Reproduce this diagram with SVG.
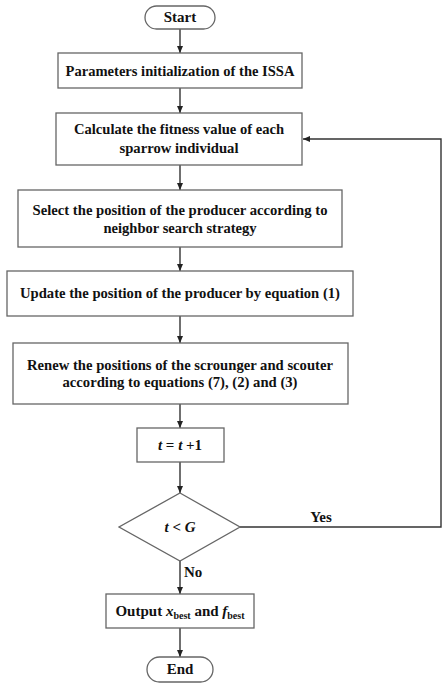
<svg xmlns="http://www.w3.org/2000/svg" width="448" height="687" viewBox="0 0 448 687">
<defs>
<marker id="ah" markerWidth="8" markerHeight="8" refX="7" refY="4" orient="auto" markerUnits="userSpaceOnUse">
<path d="M0,1 L7,4 L0,7 Z" fill="#222"/>
</marker>
<style>
.box{fill:#fff;stroke:#666;stroke-width:1.3}
.t{font-family:"Liberation Serif","Times New Roman",serif;font-weight:bold;font-size:15px;fill:#111;text-anchor:middle}
.c{fill:none;stroke:#333;stroke-width:1.4}
.i{font-style:italic}
</style>
</defs>
<rect width="448" height="687" fill="#fff"/>
<g id="connectors">
<line class="c" x1="180" y1="29" x2="180" y2="53" marker-end="url(#ah)"/>
<line class="c" x1="180" y1="88" x2="180" y2="113" marker-end="url(#ah)"/>
<line class="c" x1="180" y1="165" x2="180" y2="190" marker-end="url(#ah)"/>
<line class="c" x1="180" y1="247" x2="180" y2="271" marker-end="url(#ah)"/>
<line class="c" x1="180" y1="316" x2="180" y2="343" marker-end="url(#ah)"/>
<line class="c" x1="180" y1="404" x2="180" y2="428" marker-end="url(#ah)"/>
<line class="c" x1="180" y1="462" x2="180" y2="493" marker-end="url(#ah)"/>
<line class="c" x1="180" y1="561" x2="180" y2="594" marker-end="url(#ah)"/>
<line class="c" x1="180" y1="628" x2="180" y2="657" marker-end="url(#ah)"/>
<polyline class="c" points="240,527 441,527 441,139 303,139" marker-end="url(#ah)"/>
<text class="t" x="321" y="522">Yes</text>
<text class="t" x="184" y="577" text-anchor="start" style="text-anchor:start">No</text>
</g>
<g id="start">
<rect class="box" x="145" y="6" width="70" height="23" rx="11.5"/>
<text class="t" x="180" y="22">Start</text>
</g>
<g id="params">
<rect class="box" x="58" y="53" width="244" height="35"/>
<text class="t" x="180" y="76" textLength="229" lengthAdjust="spacingAndGlyphs">Parameters initialization of the ISSA</text>
</g>
<g id="fitness">
<rect class="box" x="56" y="113" width="246" height="52"/>
<text class="t" x="179" y="134" textLength="210" lengthAdjust="spacingAndGlyphs">Calculate the fitness value of each</text>
<text class="t" x="179" y="153" textLength="119" lengthAdjust="spacingAndGlyphs">sparrow individual</text>
</g>
<g id="select">
<rect class="box" x="18" y="190" width="324" height="57"/>
<text class="t" x="180" y="215" textLength="295" lengthAdjust="spacingAndGlyphs">Select the position of the producer according to</text>
<text class="t" x="180" y="233" textLength="153" lengthAdjust="spacingAndGlyphs">neighbor search strategy</text>
</g>
<g id="update">
<rect class="box" x="7" y="271" width="346" height="45"/>
<text class="t" x="180" y="298" textLength="320" lengthAdjust="spacingAndGlyphs">Update the position of the producer by equation (1)</text>
</g>
<g id="renew">
<rect class="box" x="13" y="343" width="335" height="61"/>
<text class="t" x="180" y="370" textLength="306" lengthAdjust="spacingAndGlyphs">Renew the positions of the scrounger and scouter</text>
<text class="t" x="180" y="387" textLength="235" lengthAdjust="spacingAndGlyphs">according to equations (7), (2) and (3)</text>
</g>
<g id="increment">
<rect class="box" x="137" y="428" width="87" height="34"/>
<text class="t" x="180" y="450"><tspan class="i">t</tspan> = <tspan class="i">t</tspan> +1</text>
</g>
<g id="decision">
<polygon class="box" points="180,493 240,527 180,561 119,527"/>
<text class="t" x="180" y="532"><tspan class="i">t</tspan> &lt; <tspan class="i">G</tspan></text>
</g>
<g id="output">
<rect class="box" x="106" y="594" width="148" height="34"/>
<text class="t" x="180" y="616">Output <tspan class="i">x</tspan><tspan font-size="10" dy="3">best</tspan><tspan dy="-3"> and </tspan><tspan class="i">f</tspan><tspan font-size="10" dy="3">best</tspan></text>
</g>
<g id="end">
<rect class="box" x="147" y="657" width="66" height="25" rx="12.5"/>
<text class="t" x="180" y="674">End</text>
</g>
</svg>
